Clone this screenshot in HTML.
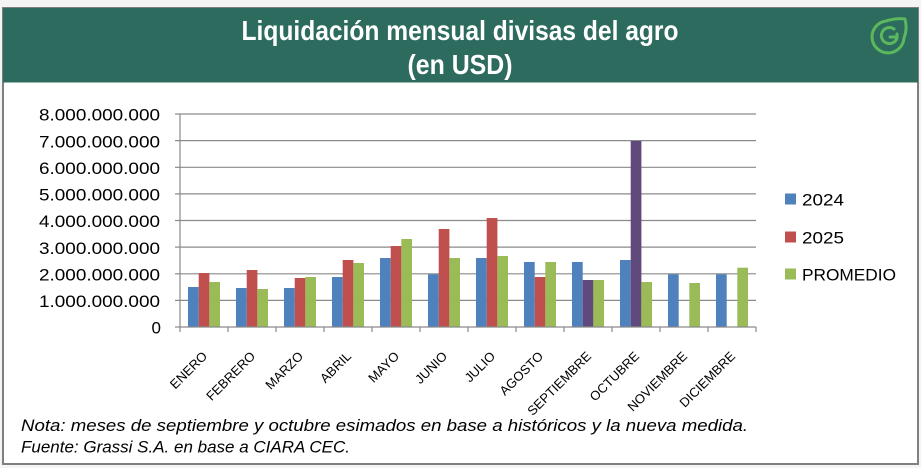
<!DOCTYPE html>
<html><head><meta charset="utf-8"><style>
html,body{margin:0;padding:0;background:#f4f4f4;}
svg{display:block;}
</style></head><body>
<svg width="921" height="468" viewBox="0 0 921 468" xmlns="http://www.w3.org/2000/svg">
<rect x="0" y="0" width="921" height="468" fill="#f4f4f4"/>
<!-- frame -->
<rect x="3" y="8" width="915" height="456" fill="#ffffff" stroke="#7f7f7f" stroke-width="2"/>
<!-- header -->
<rect x="3" y="8" width="915" height="74.5" fill="#2c6b5e"/>
<text x="460" y="40" text-anchor="middle" font-family="Liberation Sans, sans-serif" font-weight="bold" font-size="28" fill="#ffffff" textLength="437" lengthAdjust="spacingAndGlyphs">Liquidación mensual divisas del agro</text>
<text x="460" y="74" text-anchor="middle" font-family="Liberation Sans, sans-serif" font-weight="bold" font-size="28" fill="#ffffff" textLength="105" lengthAdjust="spacingAndGlyphs">(en USD)</text>
<!-- logo -->
<g fill="none" stroke="#5cb85c" stroke-width="3" stroke-linejoin="round" stroke-linecap="round">
<path d="M905,19 C907,27 906,33 904,38 A16,16 0 1 1 886,21 C893,19 899,18 905,19 Z"/>
<path d="M897,34 L897,38 A8,8 0 1 1 894,29"/>
<path d="M897,37 L890,37"/>
</g>
<!-- gridlines -->
<g stroke="#8a8a8a" stroke-width="1.2">
<line x1="180" y1="114" x2="756" y2="114"/>
<line x1="180" y1="140.6" x2="756" y2="140.6"/>
<line x1="180" y1="167.3" x2="756" y2="167.3"/>
<line x1="180" y1="193.9" x2="756" y2="193.9"/>
<line x1="180" y1="220.5" x2="756" y2="220.5"/>
<line x1="180" y1="247.1" x2="756" y2="247.1"/>
<line x1="180" y1="273.8" x2="756" y2="273.8"/>
<line x1="180" y1="300.4" x2="756" y2="300.4"/>
<!-- y ticks -->
<line x1="175" y1="114" x2="180" y2="114"/>
<line x1="175" y1="140.6" x2="180" y2="140.6"/>
<line x1="175" y1="167.3" x2="180" y2="167.3"/>
<line x1="175" y1="193.9" x2="180" y2="193.9"/>
<line x1="175" y1="220.5" x2="180" y2="220.5"/>
<line x1="175" y1="247.1" x2="180" y2="247.1"/>
<line x1="175" y1="273.8" x2="180" y2="273.8"/>
<line x1="175" y1="300.4" x2="180" y2="300.4"/>
<line x1="175" y1="327" x2="180" y2="327"/>
</g>
<!-- bars -->
<g>
<rect x="188" y="287" width="10.7" height="40" fill="#4f81bd"/>
<rect x="198.7" y="273" width="10.7" height="54" fill="#c0504d"/>
<rect x="209.3" y="282" width="10.7" height="45" fill="#9bbb59"/>
<rect x="236" y="288" width="10.7" height="39" fill="#4f81bd"/>
<rect x="246.7" y="270" width="10.7" height="57" fill="#c0504d"/>
<rect x="257.3" y="289" width="10.7" height="38" fill="#9bbb59"/>
<rect x="284" y="288" width="10.7" height="39" fill="#4f81bd"/>
<rect x="294.7" y="278" width="10.7" height="49" fill="#c0504d"/>
<rect x="305.3" y="277" width="10.7" height="50" fill="#9bbb59"/>
<rect x="332" y="277" width="10.7" height="50" fill="#4f81bd"/>
<rect x="342.7" y="260" width="10.7" height="67" fill="#c0504d"/>
<rect x="353.3" y="263" width="10.7" height="64" fill="#9bbb59"/>
<rect x="380" y="258" width="10.7" height="69" fill="#4f81bd"/>
<rect x="390.7" y="246" width="10.7" height="81" fill="#c0504d"/>
<rect x="401.3" y="239" width="10.7" height="88" fill="#9bbb59"/>
<rect x="428" y="274.3" width="10.7" height="52.7" fill="#4f81bd"/>
<rect x="438.7" y="229" width="10.7" height="98" fill="#c0504d"/>
<rect x="449.3" y="258" width="10.7" height="69" fill="#9bbb59"/>
<rect x="476" y="258" width="10.7" height="69" fill="#4f81bd"/>
<rect x="486.7" y="218" width="10.7" height="109" fill="#c0504d"/>
<rect x="497.3" y="256" width="10.7" height="71" fill="#9bbb59"/>
<rect x="524" y="262" width="10.7" height="65" fill="#4f81bd"/>
<rect x="534.7" y="277" width="10.7" height="50" fill="#c0504d"/>
<rect x="545.3" y="262" width="10.7" height="65" fill="#9bbb59"/>
<rect x="572" y="262" width="10.7" height="65" fill="#4f81bd"/>
<rect x="582.7" y="280" width="10.7" height="47" fill="#604a7b"/>
<rect x="593.3" y="280" width="10.7" height="47" fill="#9bbb59"/>
<rect x="620" y="260" width="10.7" height="67" fill="#4f81bd"/>
<rect x="630.7" y="141" width="10.7" height="186" fill="#604a7b"/>
<rect x="641.3" y="282" width="10.7" height="45" fill="#9bbb59"/>
<rect x="668" y="274.3" width="10.7" height="52.7" fill="#4f81bd"/>
<rect x="689.3" y="283" width="10.7" height="44" fill="#9bbb59"/>
<rect x="716" y="274.3" width="10.7" height="52.7" fill="#4f81bd"/>
<rect x="737.3" y="267.7" width="10.7" height="59.3" fill="#9bbb59"/>
</g>
<!-- axes -->
<g stroke="#8a8a8a" stroke-width="1.2">
<line x1="180" y1="114" x2="180" y2="327"/>
<line x1="180" y1="327" x2="756" y2="327"/>
<line x1="180" y1="327" x2="180" y2="332"/>
<line x1="228" y1="327" x2="228" y2="332"/>
<line x1="276" y1="327" x2="276" y2="332"/>
<line x1="324" y1="327" x2="324" y2="332"/>
<line x1="372" y1="327" x2="372" y2="332"/>
<line x1="420" y1="327" x2="420" y2="332"/>
<line x1="468" y1="327" x2="468" y2="332"/>
<line x1="516" y1="327" x2="516" y2="332"/>
<line x1="564" y1="327" x2="564" y2="332"/>
<line x1="612" y1="327" x2="612" y2="332"/>
<line x1="660" y1="327" x2="660" y2="332"/>
<line x1="708" y1="327" x2="708" y2="332"/>
<line x1="756" y1="327" x2="756" y2="332"/>
</g>
<!-- y labels -->
<g font-family="Liberation Sans, sans-serif" font-size="17" fill="#000" text-anchor="end">
<text x="160" y="120.7" textLength="121" lengthAdjust="spacingAndGlyphs">8.000.000.000</text>
<text x="160" y="147.3" textLength="121" lengthAdjust="spacingAndGlyphs">7.000.000.000</text>
<text x="160" y="174" textLength="121" lengthAdjust="spacingAndGlyphs">6.000.000.000</text>
<text x="160" y="200.6" textLength="121" lengthAdjust="spacingAndGlyphs">5.000.000.000</text>
<text x="160" y="227.2" textLength="121" lengthAdjust="spacingAndGlyphs">4.000.000.000</text>
<text x="160" y="253.8" textLength="121" lengthAdjust="spacingAndGlyphs">3.000.000.000</text>
<text x="160" y="280.5" textLength="121" lengthAdjust="spacingAndGlyphs">2.000.000.000</text>
<text x="160" y="307.1" textLength="121" lengthAdjust="spacingAndGlyphs">1.000.000.000</text>
<text x="161" y="333.7">0</text>
</g>
<!-- x labels -->
<g font-family="Liberation Sans, sans-serif" font-size="13" fill="#000" text-anchor="end">
<text transform="translate(208,357) rotate(-45)">ENERO</text>
<text transform="translate(256,357) rotate(-45)">FEBRERO</text>
<text transform="translate(304,357) rotate(-45)">MARZO</text>
<text transform="translate(352,357) rotate(-45)">ABRIL</text>
<text transform="translate(400,357) rotate(-45)">MAYO</text>
<text transform="translate(448,357) rotate(-45)">JUNIO</text>
<text transform="translate(496,357) rotate(-45)">JULIO</text>
<text transform="translate(544,357) rotate(-45)">AGOSTO</text>
<text transform="translate(592,357) rotate(-45)">SEPTIEMBRE</text>
<text transform="translate(640,357) rotate(-45)">OCTUBRE</text>
<text transform="translate(688,357) rotate(-45)">NOVIEMBRE</text>
<text transform="translate(736,357) rotate(-45)">DICIEMBRE</text>
</g>
<!-- legend -->
<rect x="785" y="193.5" width="11" height="11" fill="#4f81bd"/>
<rect x="785" y="231.5" width="11" height="11" fill="#c0504d"/>
<rect x="785" y="268.5" width="11" height="11" fill="#9bbb59"/>
<g font-family="Liberation Sans, sans-serif" font-size="17" fill="#000">
<text x="802" y="205.3" textLength="42" lengthAdjust="spacingAndGlyphs">2024</text>
<text x="802" y="243.3" textLength="42" lengthAdjust="spacingAndGlyphs">2025</text>
<text x="802" y="280.3" textLength="94" lengthAdjust="spacingAndGlyphs">PROMEDIO</text>
</g>
<!-- footnote -->
<g font-family="Liberation Sans, sans-serif" font-size="16.5" font-style="italic" fill="#000">
<text x="21" y="431" textLength="727" lengthAdjust="spacingAndGlyphs">Nota: meses de septiembre y octubre esimados en base a históricos y la nueva medida.</text>
<text x="21" y="452.5" textLength="329" lengthAdjust="spacingAndGlyphs">Fuente: Grassi S.A. en base a CIARA CEC.</text>
</g>
</svg>
</body></html>
